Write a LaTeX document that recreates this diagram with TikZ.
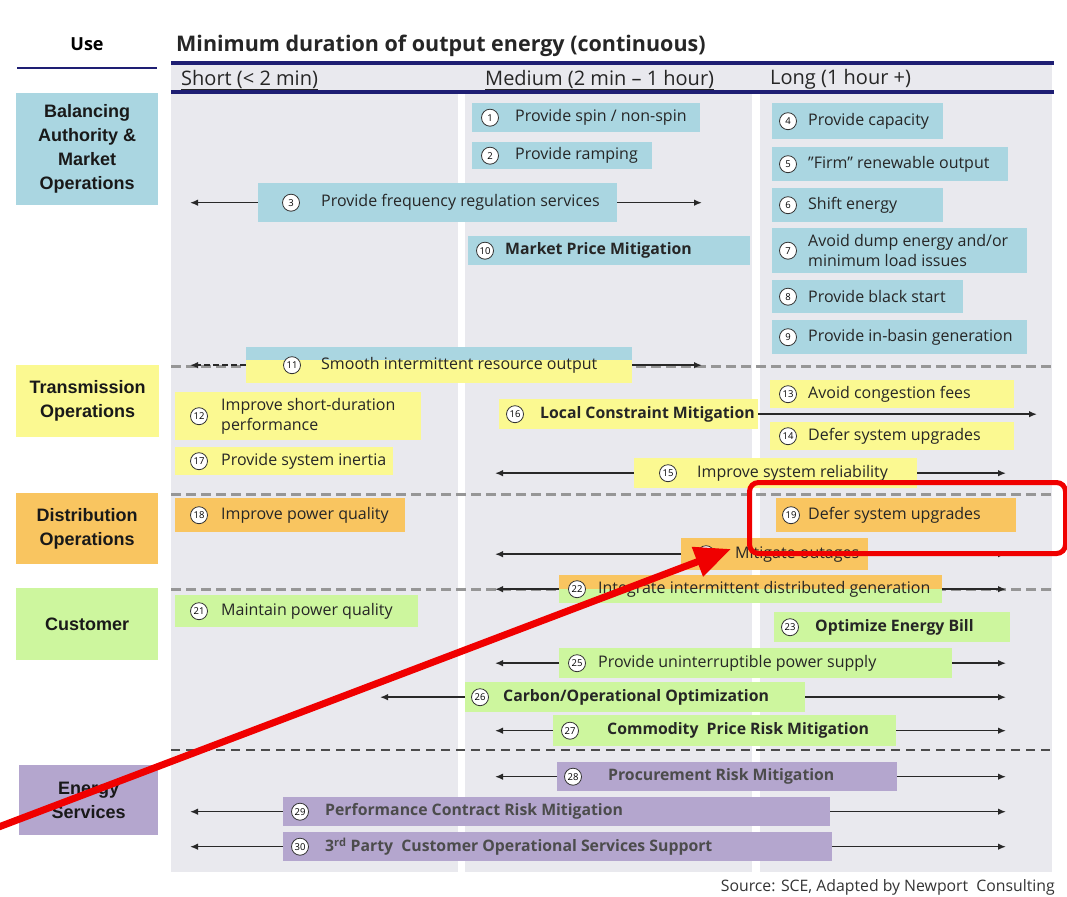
\documentclass[tikz,border=0pt]{standalone}
\usepackage{fontspec}
\setmainfont{Open Sans}
\newfontfamily\arialfont{Liberation Sans}
\usetikzlibrary{arrows.meta}

\definecolor{blueF}{RGB}{170,214,225}
\definecolor{yellowF}{RGB}{251,249,145}
\definecolor{orangeF}{RGB}{249,197,96}
\definecolor{greenF}{RGB}{205,246,158}
\definecolor{purpleF}{RGB}{180,166,206}
\definecolor{colbg}{RGB}{233,233,238}
\definecolor{navy}{RGB}{30,30,115}
\definecolor{sepgray}{RGB}{150,150,150}
\definecolor{arrgray}{RGB}{40,40,40}
\definecolor{hlred}{RGB}{240,0,0}

\tikzset{
  cell/.style={anchor=north west, inner sep=0pt},
  usebox/.style={cell, align=center, text=black!90, font=\arialfont\bfseries\fontsize{18}{24}\selectfont},
  txt/.style={anchor=west, inner sep=0pt, align=left, text=black!85, font=\fontsize{16}{20}\selectfont},
  btxt/.style={txt, font=\bfseries\fontsize{15.8}{18}\selectfont},
  num/.style={circle, draw=black!80, fill=white, line width=0.8pt, inner sep=0pt, minimum size=17pt, font=\fontsize{9.5}{10}\selectfont},
  arr/.style={-{Latex[length=8pt,width=6.5pt]}, line width=1.5pt, draw=arrgray},
  sep/.style={sepgray, line width=3pt, dash pattern=on 10pt off 5pt},
  head/.style={anchor=west, inner sep=0pt, text=black!85, font=\fontsize{20}{22}\selectfont},
  hlbox/.style={cell, draw=hlred, line width=5pt, rounded corners=9pt},
  hlarrow/.style={hlred, line width=7pt, -{Triangle[length=36pt,width=30pt]}}
}

\begin{document}
\begin{tikzpicture}[x=1pt,y=-1pt]
\useasboundingbox (0,0) rectangle (1067,896);

% column backgrounds
\fill[colbg] (171,63) rectangle (1052,92);
\fill[colbg] (171,92) rectangle (458,872);
\fill[colbg] (465,92) rectangle (752,872);
\fill[colbg] (760,92) rectangle (1052,872);

% headings
\node[anchor=center, inner sep=0pt, font=\bfseries\fontsize{18}{20}\selectfont] (use) at (87,44) {Use};
\node[head, font=\bfseries\fontsize{21.5}{22}\selectfont] (title) at (176,46) {Minimum duration of output energy (continuous)};
\node[head] (short) at (181,80) {\underline{Short (< 2 min)}};
\node[head] (medium) at (485,80) {\underline{Medium (2 min – 1 hour)}};
\node[head] (long) at (770,80) {\underline{Long (1 hour +)}};
\draw[navy, line width=2.5pt] (17,68) -- (157,68);
\draw[navy, line width=3.5pt] (171,63) -- (1054,63);
\draw[navy, line width=3.5pt] (171,92) -- (1054,92);

% row separators
\draw[sep] (171,366) -- (1052,366);
\draw[sep] (171,494) -- (1052,494);
\draw[sep] (171,589) -- (1052,589);
\draw[sep, black!70, line width=1.8pt, dash pattern=on 9pt off 6pt] (171,750) -- (1052,750);

% uses
\node[usebox, fill=blueF, minimum width=142pt, minimum height=112pt] (u1) at (16,93) {Balancing\\Authority \&\\Market\\Operations};
\node[usebox, fill=yellowF, minimum width=143pt, minimum height=72pt] (u2) at (16,365) {Transmission\\Operations};
\node[usebox, fill=orangeF, minimum width=142pt, minimum height=71pt] (u3) at (16,493) {Distribution\\Operations};
\node[usebox, fill=greenF, minimum width=142pt, minimum height=72pt] (u4) at (16,588) {Customer};
\node[usebox, fill=purpleF, minimum width=139pt, minimum height=70pt] (u5) at (19,765) {Energy\\Services};

% arrow end points
\coordinate (xS) at (190,0);
\coordinate (xM) at (495,0);
\coordinate (xL) at (380,0);
\coordinate (xE) at (702,0);
\coordinate (xF) at (1006,0);
\coordinate (xR) at (1037,0);

% balancing authority
\node[cell, fill=blueF, minimum width=228pt, minimum height=29pt] (b1) at (472,103) {};
\node[num] (n1) at ([xshift=18pt]b1.west) {1};
\node[txt] (t1) at ([xshift=43pt]b1.west) {Provide spin / non-spin};
\node[cell, fill=blueF, minimum width=180pt, minimum height=27pt] (b2) at (472,142) {};
\node[num] (n2) at ([xshift=18pt]b2.west) {2};
\node[txt] (t2) at ([xshift=43pt]b2.west) {Provide ramping};
\node[cell, fill=blueF, minimum width=359pt, minimum height=39pt] (b3) at (258,183) {};
\node[num] (n3) at ([xshift=33pt]b3.west) {3};
\node[txt] (t3) at ([xshift=63pt]b3.west) {Provide frequency regulation services};
\draw[arr] (b3.west) -- (b3.west -| xS);
\draw[arr] (b3.east) -- (b3.east -| xE);
\node[cell, fill=blueF, minimum width=171pt, minimum height=36pt] (b4) at (772,103) {};
\node[num] (n4) at ([xshift=16pt]b4.west) {4};
\node[txt] (t4) at ([xshift=36pt]b4.west) {Provide capacity};
\node[cell, fill=blueF, minimum width=236pt, minimum height=34pt] (b5) at (772,147) {};
\node[num] (n5) at ([xshift=16pt]b5.west) {5};
\node[txt] (t5) at ([xshift=36pt]b5.west) {"Firm" renewable output};
\node[cell, fill=blueF, minimum width=171pt, minimum height=34pt] (b6) at (772,188) {};
\node[num] (n6) at ([xshift=16pt]b6.west) {6};
\node[txt] (t6) at ([xshift=36pt]b6.west) {Shift energy};
\node[cell, fill=blueF, minimum width=255pt, minimum height=45pt] (b7) at (772,228) {};
\node[num] (n7) at ([xshift=16pt]b7.west) {7};
\node[txt] (t7) at ([xshift=36pt]b7.west) {Avoid dump energy and/or\\minimum load issues};
\node[cell, fill=blueF, minimum width=191pt, minimum height=33pt] (b8) at (772,280) {};
\node[num] (n8) at ([xshift=16pt]b8.west) {8};
\node[txt] (t8) at ([xshift=36pt]b8.west) {Provide black start};
\node[cell, fill=blueF, minimum width=255pt, minimum height=34pt] (b9) at (772,320) {};
\node[num] (n9) at ([xshift=16pt]b9.west) {9};
\node[txt] (t9) at ([xshift=36pt]b9.west) {Provide in-basin generation};
\node[cell, fill=blueF, minimum width=282pt, minimum height=29pt] (b10) at (468,236) {};
\node[num] (n10) at ([xshift=17pt]b10.west) {10};
\node[btxt] (t10) at ([xshift=37pt]b10.west) {Market Price Mitigation};
\node[cell, fill=yellowF, minimum width=386pt, minimum height=36pt,
  path picture={\fill[blueF] (path picture bounding box.north west) rectangle ([yshift=-13pt]path picture bounding box.north east);}] (b11) at (246,347) {};
\node[num] (n11) at ([xshift=46pt]b11.west) {11};
\node[txt] (t11) at ([xshift=75pt]b11.west) {Smooth intermittent resource output};
\draw[arr, dash pattern=on 6pt off 3pt] (b11.west) -- (b11.west -| xS);
\draw[arr] (b11.east) -- (b11.east -| xE);

% transmission
\node[cell, fill=yellowF, minimum width=246pt, minimum height=48pt] (b12) at (175,392) {};
\node[num] (n12) at ([xshift=24pt]b12.west) {12};
\node[txt] (t12) at ([xshift=46pt]b12.west) {Improve short-duration\\performance};
\node[cell, fill=yellowF, minimum width=244pt, minimum height=28pt] (b13) at (770,380) {};
\node[num] (n13) at ([xshift=18pt]b13.west) {13};
\node[txt] (t13) at ([xshift=38pt]b13.west) {Avoid congestion fees};
\node[cell, fill=yellowF, minimum width=244pt, minimum height=28pt] (b14) at (770,422) {};
\node[num] (n14) at ([xshift=18pt]b14.west) {14};
\node[txt] (t14) at ([xshift=38pt]b14.west) {Defer system upgrades};
\node[cell, fill=yellowF, minimum width=259pt, minimum height=30pt] (b16) at (499,399) {};
\node[num] (n16) at ([xshift=16pt]b16.west) {16};
\node[btxt] (t16) at ([xshift=41pt]b16.west) {Local Constraint Mitigation};
\draw[arr] (b16.east) -- (b16.east -| xR);
\node[cell, fill=yellowF, minimum width=218pt, minimum height=28pt] (b17) at (175,447) {};
\node[num] (n17) at ([xshift=24pt]b17.west) {17};
\node[txt] (t17) at ([xshift=46pt]b17.west) {Provide system inertia};
\node[cell, fill=yellowF, minimum width=283pt, minimum height=30pt] (b15) at (634,458) {};
\node[num] (n15) at ([xshift=34pt]b15.west) {15};
\node[txt] (t15) at ([xshift=63pt]b15.west) {Improve system reliability};
\draw[arr] (b15.west) -- (b15.west -| xM);
\draw[arr] (b15.east) -- (b15.east -| xF);

% distribution
\node[cell, fill=orangeF, minimum width=230pt, minimum height=34pt] (b18) at (175,498) {};
\node[num] (n18) at ([xshift=24pt]b18.west) {18};
\node[txt] (t18) at ([xshift=46pt]b18.west) {Improve power quality};
\node[cell, fill=orangeF, minimum width=240pt, minimum height=34pt] (b19) at (776,498) {};
\node[num] (n19) at ([xshift=15pt]b19.west) {19};
\node[txt] (t19) at ([xshift=32pt]b19.west) {Defer system upgrades};
\node[cell, fill=orangeF, minimum width=187pt, minimum height=32pt] (b20) at (681,538) {};
\node[num] (n20) at ([xshift=25pt]b20.west) {20};
\node[txt] (t20) at ([xshift=54pt]b20.west) {Mitigate outages};
\draw[arr] (b20.west) -- (b20.west -| xM);
\draw[arr] (b20.east) -- (b20.east -| xF);
\node[cell, fill=greenF, minimum width=383pt, minimum height=28pt,
  path picture={\fill[orangeF] (path picture bounding box.north west) rectangle ([yshift=-14pt]path picture bounding box.north east);}] (b22) at (559,575) {};
\node[num] (n22) at ([xshift=18pt]b22.west) {22};
\node[txt] (t22) at ([xshift=39pt]b22.west) {Integrate intermittent distributed generation};
\draw[arr] (b22.west) -- (b22.west -| xM);
\draw[arr] (b22.east) -- (b22.east -| xF);

% customer
\node[cell, fill=greenF, minimum width=243pt, minimum height=32pt] (b21) at (175,595) {};
\node[num] (n21) at ([xshift=24pt]b21.west) {21};
\node[txt] (t21) at ([xshift=46pt]b21.west) {Maintain power quality};
\node[cell, fill=greenF, minimum width=236pt, minimum height=30pt] (b23) at (774,612) {};
\node[num] (n23) at ([xshift=16pt]b23.west) {23};
\node[btxt] (t23) at ([xshift=41pt]b23.west) {Optimize Energy Bill};
\node[cell, fill=greenF, minimum width=393pt, minimum height=30pt] (b25) at (559,648) {};
\node[num] (n25) at ([xshift=18pt]b25.west) {25};
\node[txt] (t25) at ([xshift=39pt]b25.west) {Provide uninterruptible power supply};
\draw[arr] (b25.west) -- (b25.west -| xM);
\draw[arr] (b25.east) -- (b25.east -| xF);
\node[cell, fill=greenF, minimum width=340pt, minimum height=30pt] (b26) at (465,682) {};
\node[num] (n26) at ([xshift=15pt]b26.west) {26};
\node[btxt] (t26) at ([xshift=38pt]b26.west) {Carbon/Operational Optimization};
\draw[arr] (b26.west) -- (b26.west -| xL);
\draw[arr] (b26.east) -- (b26.east -| xF);
\node[cell, fill=greenF, minimum width=343pt, minimum height=31pt] (b27) at (553,715) {};
\node[num] (n27) at ([xshift=17pt]b27.west) {27};
\node[btxt] (t27) at ([xshift=54pt]b27.west) {Commodity\ \ Price Risk Mitigation};
\draw[arr] (b27.west) -- (b27.west -| xM);
\draw[arr] (b27.east) -- (b27.east -| xF);

% energy services
\node[cell, fill=purpleF, minimum width=340pt, minimum height=29pt] (b28) at (557,762) {};
\node[num] (n28) at ([xshift=16pt]b28.west) {28};
\node[btxt, text=black!70] (t28) at ([xshift=51pt]b28.west) {Procurement Risk Mitigation};
\draw[arr] (b28.west) -- (b28.west -| xM);
\draw[arr] (b28.east) -- (b28.east -| xF);
\node[cell, fill=purpleF, minimum width=547pt, minimum height=29pt] (b29) at (283,797) {};
\node[num] (n29) at ([xshift=17pt]b29.west) {29};
\node[btxt, text=black!70] (t29) at ([xshift=42pt]b29.west) {Performance Contract Risk Mitigation};
\draw[arr] (b29.west) -- (b29.west -| xS);
\draw[arr] (b29.east) -- (b29.east -| xF);
\node[cell, fill=purpleF, minimum width=549pt, minimum height=29pt] (b30) at (283,832) {};
\node[num] (n30) at ([xshift=17pt]b30.west) {30};
\node[btxt, text=black!70] (t30) at ([xshift=42pt]b30.west) {3\textsuperscript{rd} Party\ \ Customer Operational Services Support};
\draw[arr] (b30.west) -- (b30.west -| xS);
\draw[arr] (b30.east) -- (b30.east -| xF);

\node[anchor=east, inner sep=0pt, text=black!80, font=\fontsize{15.8}{17}\selectfont] (src) at (1055,887) {Source: SCE, Adapted by Newport\ \ Consulting};

% highlight
\node[hlbox, minimum width=316pt, minimum height=71pt] (hl) at (747,480) {};
\coordinate (rs) at (-4,828);
\coordinate (rt) at (731,549);
\draw[hlarrow] (rs) -- (rt);
\end{tikzpicture}
\end{document}
